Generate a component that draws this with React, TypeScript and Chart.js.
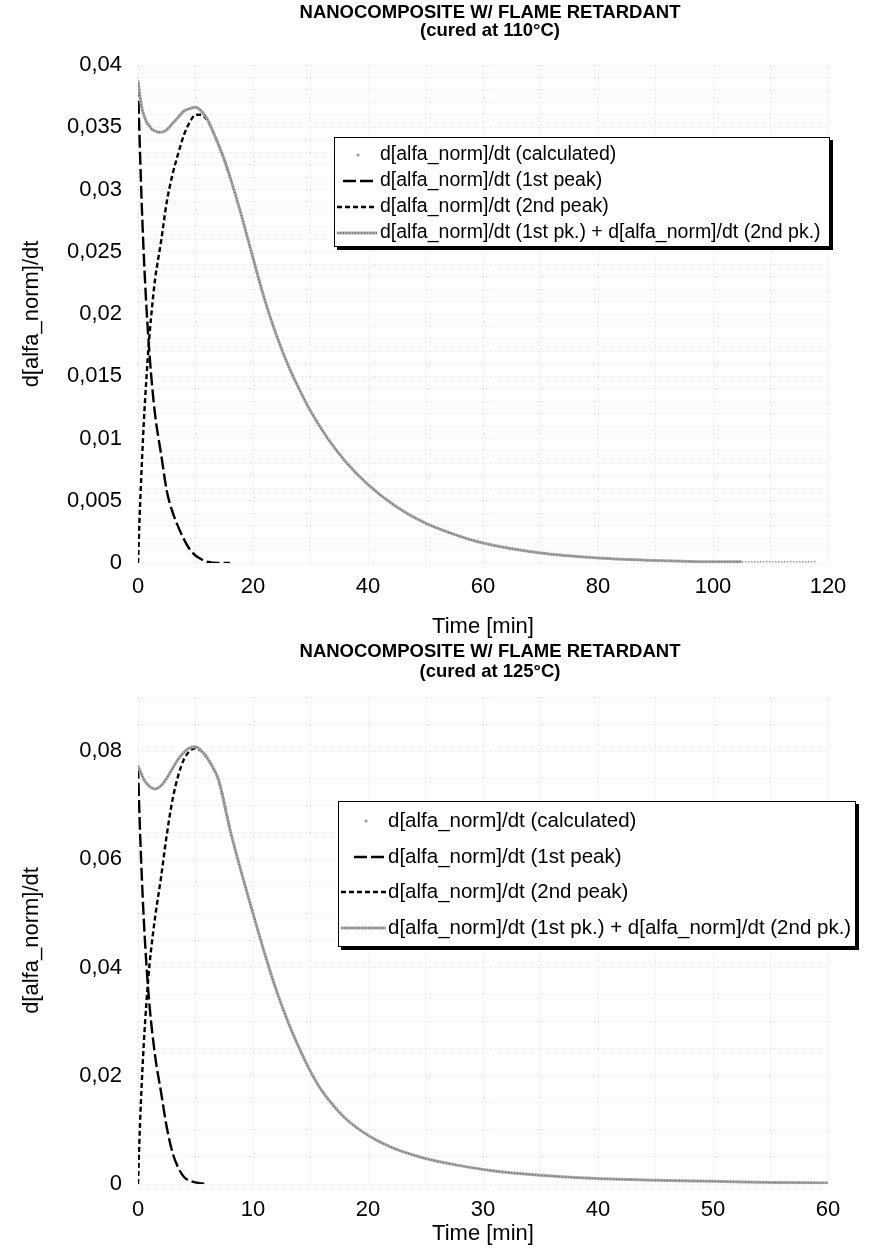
import React, { useEffect, useRef } from 'react';
import { Chart, registerables } from 'chart.js';

Chart.register(...registerables);

const FONT = "'Liberation Sans', Arial, Helvetica, sans-serif";

const legendLabels = [
  'd[alfa_norm]/dt (calculated)',
  'd[alfa_norm]/dt (1st peak)',
  'd[alfa_norm]/dt (2nd peak)',
  'd[alfa_norm]/dt (1st pk.) + d[alfa_norm]/dt (2nd pk.)',
];
const xAxisTitle = 'Time [min]';
const yAxisTitle = 'd[alfa_norm]/dt';

// ---------- cured at 110°C ----------
const title110 = ['NANOCOMPOSITE W/ FLAME RETARDANT', '(cured at 110°C)'];
const time110 = [0, 0.25, 0.5, 0.75, 1, 1.5, 2, 2.5, 3, 3.5, 4, 5, 6, 7, 8, 9, 10, 11, 12, 13, 14, 15, 16, 17, 18, 19, 20, 22, 24, 26, 28, 30, 33, 36, 40, 45, 50, 55, 60, 70, 80, 90, 100, 105];
const sum110 = [0.0387, 0.0378, 0.0370, 0.0364, 0.0360, 0.0354, 0.0351, 0.0348, 0.0347, 0.0346, 0.0346, 0.0348, 0.0353, 0.0358, 0.0363, 0.0365, 0.0366, 0.0363, 0.0357, 0.0347, 0.0336, 0.0324, 0.0310, 0.0295, 0.0279, 0.0262, 0.0245, 0.0212, 0.0184, 0.0160, 0.0140, 0.0122, 0.0100, 0.0082, 0.0063, 0.0045, 0.0032, 0.0023, 0.0016, 0.0008, 0.0004, 0.0002, 0.0001, 0.0001];
const calcTime110 = [0, 0.25, 0.5, 0.75, 1, 1.5, 2, 2.5, 3, 3.5, 4, 5, 6, 7, 8, 9, 10, 11, 12, 13, 14, 15, 16, 17, 18, 19, 20, 22, 24, 26, 28, 30, 33, 36, 40, 45, 50, 55, 60, 70, 80, 90, 100, 110, 118];
const calc110 = [0.0388, 0.0379, 0.0370, 0.0364, 0.0360, 0.0354, 0.0351, 0.0348, 0.0347, 0.0346, 0.0346, 0.0348, 0.0353, 0.0358, 0.0363, 0.0365, 0.0366, 0.0363, 0.0357, 0.0347, 0.0336, 0.0324, 0.0310, 0.0295, 0.0279, 0.0262, 0.0245, 0.0212, 0.0184, 0.0160, 0.0140, 0.0122, 0.0100, 0.0082, 0.0063, 0.0045, 0.0032, 0.0023, 0.0016, 0.0008, 0.0004, 0.0002, 0.0001, 0.0001, 0.0001];
const time1st110 = [0, 0.25, 0.5, 0.75, 1, 1.5, 2, 2.5, 3, 3.5, 4, 5, 6, 7, 8, 9, 10, 11, 12, 14, 16];
const peak1st110 = [0.0385, 0.0345, 0.0308, 0.0276, 0.0248, 0.0203, 0.0168, 0.0140, 0.0118, 0.0102, 0.0088, 0.0058, 0.0041, 0.0029, 0.0019, 0.0011, 0.0006, 0.0003, 0.0001, 0, 0];
const time2nd110 = [0, 0.25, 0.5, 0.75, 1, 1.5, 2, 2.5, 3, 3.5, 4, 5, 6, 7, 8, 9, 10, 11, 12, 13, 14, 15, 16];
const peak2nd110 = [0, 0.0033, 0.0062, 0.0088, 0.0112, 0.0151, 0.0183, 0.0208, 0.0229, 0.0244, 0.0258, 0.0290, 0.0312, 0.0329, 0.0344, 0.0354, 0.0360, 0.0360, 0.0356, 0.0347, 0.0336, 0.0324, 0.0310];
const xLabels110 = [0, 20, 40, 60, 80, 100, 120];
const yLabels110 = [0, 0.005, 0.01, 0.015, 0.02, 0.025, 0.03, 0.035, 0.04];

// ---------- cured at 125°C ----------
const title125 = ['NANOCOMPOSITE W/ FLAME RETARDANT', '(cured at 125°C)'];
const time125 = [0, 0.25, 0.5, 1, 1.5, 2, 2.5, 3, 3.5, 4, 4.5, 5, 5.5, 6, 6.5, 7, 8, 9, 10, 11, 12, 13, 14, 15, 16, 18, 20, 22, 25, 28, 30, 35, 40, 45, 50, 55, 60];
const sum125 = [0.0773, 0.0760, 0.0748, 0.0735, 0.0730, 0.0736, 0.0750, 0.0768, 0.0785, 0.0798, 0.0806, 0.0808, 0.0801, 0.0788, 0.0770, 0.0747, 0.0655, 0.0575, 0.0500, 0.0427, 0.0360, 0.0302, 0.0252, 0.0208, 0.0172, 0.0122, 0.0090, 0.0068, 0.0047, 0.0034, 0.0027, 0.0016, 0.0010, 0.0007, 0.0005, 0.0003, 0.0002];
const calcTime125 = [0, 0.25, 0.5, 1, 1.5, 2, 2.5, 3, 3.5, 4, 4.5, 5, 5.5, 6, 6.5, 7, 8, 9, 10, 11, 12, 13, 14, 15, 16, 18, 20, 22, 25, 28, 30, 35, 40, 45, 50, 55, 60];
const calc125 = [0.0774, 0.0761, 0.0748, 0.0735, 0.0730, 0.0736, 0.0750, 0.0768, 0.0785, 0.0798, 0.0806, 0.0808, 0.0801, 0.0788, 0.0770, 0.0747, 0.0655, 0.0575, 0.0500, 0.0427, 0.0360, 0.0302, 0.0252, 0.0208, 0.0172, 0.0122, 0.0090, 0.0068, 0.0047, 0.0034, 0.0027, 0.0016, 0.0010, 0.0007, 0.0005, 0.0003, 0.0002];
const time1st125 = [0, 0.1, 0.25, 0.5, 0.75, 1, 1.5, 2, 2.5, 3, 3.5, 4, 4.5, 5, 5.5, 6];
const peak1st125 = [0.0773, 0.0700, 0.0610, 0.0490, 0.0400, 0.0330, 0.0235, 0.0170, 0.0105, 0.0058, 0.0030, 0.0013, 0.0006, 0.0003, 0.0001, 0];
const time2nd125 = [0, 0.1, 0.25, 0.5, 0.75, 1, 1.5, 2, 2.5, 3, 3.5, 4, 4.5, 5, 5.5, 6, 6.5, 7, 8];
const peak2nd125 = [0, 0.0066, 0.0150, 0.0258, 0.0340, 0.0405, 0.0495, 0.0566, 0.0645, 0.0710, 0.0755, 0.0785, 0.0800, 0.0805, 0.0800, 0.0788, 0.0770, 0.0747, 0.0655];
const xLabels125 = [0, 10, 20, 30, 40, 50, 60];
const yLabels125 = [0, 0.02, 0.04, 0.06, 0.08];

// ---------- styles ----------
const STYLE = {
  calc: { color: '#666666', width: 1.4, dash: [1, 2] },
  first: { color: '#000000', width: 2.4, dash: [13, 4] },
  second: { color: '#000000', width: 2.4, dash: [5, 3] },
  sum: { color: '#a9a9a9', width: 3, dash: [] as number[] },
};

const pts = (xs: number[], ys: number[]) => xs.map((x, i) => ({ x, y: ys[i] }));
const near = (list: number[], v: number) => list.some((l) => Math.abs(l - v) < 1e-9);
const fmt = (v: number) => String(Number(v.toFixed(4))).replace('.', ',');

type Spec = {
  height: number;
  title: string[];
  titleY: number[];
  t: number[]; sum: number[];
  ct: number[]; calc: number[];
  t1: number[]; p1: number[];
  t2: number[]; p2: number[];
  xMax: number; xStep: number; xLabels: number[];
  yMax: number; yStep: number; yLabels: number[];
  areaTop: number; areaBottom: number; areaLeft: number; areaRight: number;
  xTickPad: number; xTitlePad: number;
  legend: { x: number; y: number; w: number; h: number; rows: number[]; textX: number; dotX: number; s1: number; s2: number; s3: number; s4: number; sEnd: number; font: number };
};

const spec110: Spec = {
  height: 640,
  title: title110,
  titleY: [13, 31],
  t: time110, sum: sum110, ct: calcTime110, calc: calc110,
  t1: time1st110, p1: peak1st110, t2: time2nd110, p2: peak2nd110,
  xMax: 120, xStep: 10, xLabels: xLabels110,
  yMax: 0.04, yStep: 0.001, yLabels: yLabels110,
  areaTop: 65, areaBottom: 563, areaLeft: 138, areaRight: 828,
  xTickPad: 11, xTitlePad: 0,
  legend: { x: 334, y: 137, w: 496, h: 110, rows: [155, 181, 207, 233], textX: 380, dotX: 358, s1: 343, s2: 337, s3: 337, s4: 378, sEnd: 377, font: 19.5 },
};

const spec125: Spec = {
  height: 616,
  title: title125,
  titleY: [12, 32],
  t: time125, sum: sum125, ct: calcTime125, calc: calc125,
  t1: time1st125, p1: peak1st125, t2: time2nd125, p2: peak2nd125,
  xMax: 60, xStep: 5, xLabels: xLabels125,
  yMax: 0.09, yStep: 0.005, yLabels: yLabels125,
  areaTop: 57, areaBottom: 544, areaLeft: 138, areaRight: 828,
  xTickPad: 13, xTitlePad: 9,
  legend: { x: 338, y: 161, w: 518, h: 146, rows: [181, 217, 252, 288], textX: 388, dotX: 366, s1: 354, s2: 341, s3: 341, s4: 386, sEnd: 386, font: 20.5 },
};

const overlay = (s: Spec) => ({
  id: 'overlay',
  afterDraw(chart: any) {
    const ctx: CanvasRenderingContext2D = chart.ctx;
    const cx = 490;
    ctx.save();
    ctx.fillStyle = '#000';
    ctx.textAlign = 'center';
    ctx.textBaseline = 'middle';
    ctx.font = `bold 18.5px ${FONT}`;
    s.title.forEach((line, i) => ctx.fillText(line, cx, s.titleY[i]));
    const L = s.legend;
    ctx.fillStyle = '#000';
    ctx.fillRect(L.x + 3, L.y + 3, L.w, L.h);
    ctx.fillStyle = '#fff';
    ctx.fillRect(L.x, L.y, L.w, L.h);
    ctx.strokeStyle = '#000';
    ctx.lineWidth = 1;
    ctx.setLineDash([]);
    ctx.strokeRect(L.x + 0.5, L.y + 0.5, L.w - 1, L.h - 1);
    const drawLine = (st: { color: string; width: number; dash: number[] }, x0: number, x1: number, y: number) => {
      ctx.save();
      ctx.strokeStyle = st.color;
      ctx.lineWidth = st.width;
      ctx.setLineDash(st.dash);
      ctx.beginPath();
      ctx.moveTo(x0, y);
      ctx.lineTo(x1, y);
      ctx.stroke();
      ctx.restore();
    };
    ctx.fillStyle = '#9a9a9a';
    ctx.beginPath();
    ctx.arc(L.dotX, L.rows[0], 1.6, 0, Math.PI * 2);
    ctx.fill();
    drawLine(STYLE.first, L.s1, L.sEnd, L.rows[1]);
    drawLine(STYLE.second, L.s2, L.sEnd, L.rows[2]);
    drawLine(STYLE.sum, L.s3, L.sEnd, L.rows[3]);
    drawLine(STYLE.calc, L.s3, L.sEnd, L.rows[3]);
    ctx.fillStyle = '#000';
    ctx.textAlign = 'left';
    ctx.textBaseline = 'middle';
    ctx.font = `${L.font}px ${FONT}`;
    legendLabels.forEach((lab, i) => ctx.fillText(lab, L.textX, L.rows[i]));
    ctx.restore();
  },
});

function buildConfig(s: Spec): any {
  const base = { pointRadius: 0, pointHoverRadius: 0, fill: false, cubicInterpolationMode: 'monotone', borderCapStyle: 'butt' };
  const datasets = [
    { ...base, label: legendLabels[0], data: pts(s.ct, s.calc), borderColor: STYLE.calc.color, borderWidth: STYLE.calc.width, borderDash: STYLE.calc.dash, order: 0 },
    { ...base, label: legendLabels[1], data: pts(s.t1, s.p1), borderColor: STYLE.first.color, borderWidth: STYLE.first.width, borderDash: STYLE.first.dash, order: 2 },
    { ...base, label: legendLabels[2], data: pts(s.t2, s.p2), borderColor: STYLE.second.color, borderWidth: STYLE.second.width, borderDash: STYLE.second.dash, order: 3 },
    { ...base, label: legendLabels[3], data: pts(s.t, s.sum), borderColor: STYLE.sum.color, borderWidth: STYLE.sum.width, borderDash: STYLE.sum.dash, order: 1 },
  ];
  const gridColor = 'rgba(0,0,0,0.13)';
  const tickFont = { family: FONT, size: 22 };
  return {
    type: 'line',
    data: { datasets },
    options: {
      responsive: false,
      animation: false,
      devicePixelRatio: 1,
      events: [],
      layout: { padding: { left: 0, top: s.areaTop, right: 895 - s.areaRight, bottom: 0 } },
      plugins: { legend: { display: false }, tooltip: { enabled: false }, title: { display: false } },
      scales: {
        x: {
          type: 'linear',
          min: 0,
          max: s.xMax,
          afterFit: (sc: any) => { sc.height = s.height - s.areaBottom; },
          ticks: {
            stepSize: s.xStep,
            autoSkip: false,
            maxRotation: 0,
            padding: s.xTickPad,
            color: '#000',
            font: tickFont,
            callback: (v: number) => (near(s.xLabels, v) ? String(v) : ''),
          },
          grid: { color: gridColor, lineWidth: 1, drawTicks: false },
          border: { display: false, dash: [1, 3] },
          title: { display: true, text: xAxisTitle, color: '#000', font: tickFont, padding: { top: 0, bottom: s.xTitlePad } },
        },
        y: {
          type: 'linear',
          min: 0,
          max: s.yMax,
          afterFit: (sc: any) => { sc.width = s.areaLeft; },
          ticks: {
            stepSize: s.yStep,
            autoSkip: false,
            padding: 16,
            color: '#000',
            font: tickFont,
            callback: (v: number) => (near(s.yLabels, v) ? fmt(v) : ''),
          },
          grid: { color: gridColor, lineWidth: 1, drawTicks: false },
          border: { display: false, dash: [1, 3] },
          title: { display: true, text: yAxisTitle, color: '#000', font: tickFont, padding: { top: 19, bottom: 0 } },
        },
      },
    },
    plugins: [overlay(s)],
  };
}

function CurveChart({ spec }: { spec: Spec }) {
  const ref = useRef<HTMLCanvasElement>(null);
  useEffect(() => {
    const chart = new Chart(ref.current as HTMLCanvasElement, buildConfig(spec));
    return () => chart.destroy();
  }, [spec]);
  return <canvas ref={ref} width={895} height={spec.height} style={{ display: 'block', width: 895, height: spec.height }} />;
}

export default function App() {
  return (
    <div style={{ position: 'absolute', left: 0, top: 0, width: 895, height: 1256, background: '#fff' }}>
      <CurveChart spec={spec110} />
      <CurveChart spec={spec125} />
    </div>
  );
}
